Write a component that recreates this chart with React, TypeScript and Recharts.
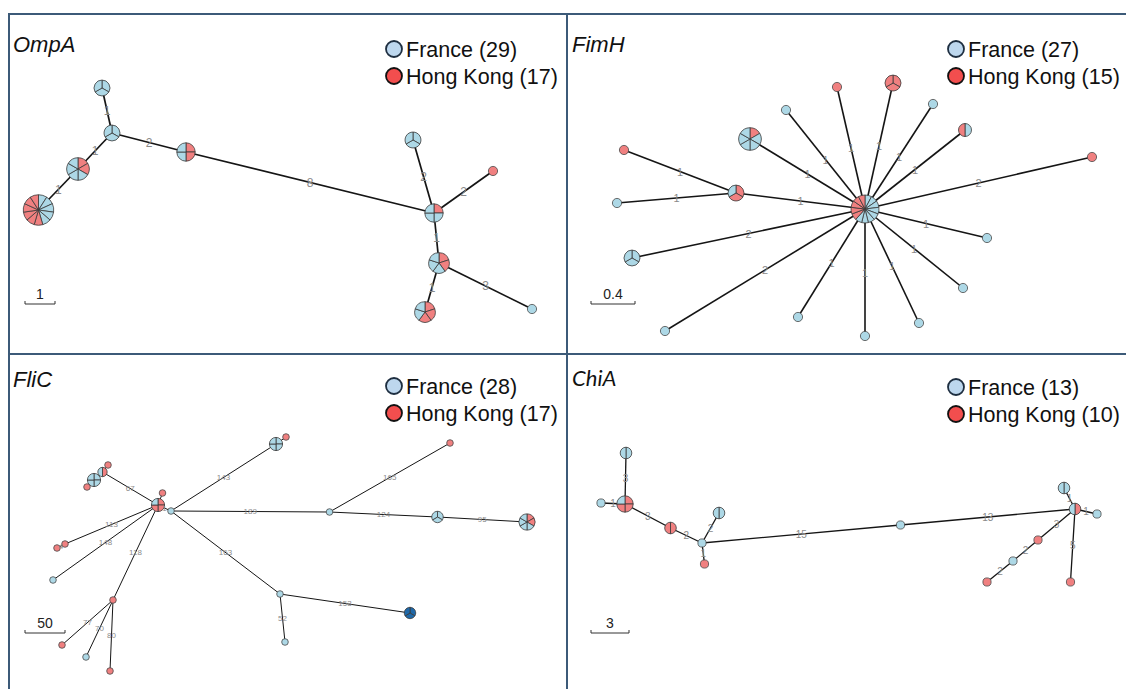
import React from 'react';
import { ScatterChart, Scatter, XAxis, YAxis } from 'recharts';

type Node = { x: number; y: number; fr: number; hk: number; ot?: number; fl?: boolean };
type Edge = [number, number, string];

// OmpA
const ompaNodes: Node[] = [
  { x: 102, y: 88, fr: 3, hk: 0 },
  { x: 112, y: 133, fr: 3, hk: 0 },
  { x: 186, y: 152, fr: 2, hk: 2 },
  { x: 78, y: 169, fr: 4, hk: 2 },
  { x: 38.5, y: 210, fr: 5, hk: 6, fl: true },
  { x: 434, y: 213, fr: 3, hk: 1 },
  { x: 413, y: 140, fr: 3, hk: 0 },
  { x: 493, y: 171, fr: 0, hk: 1 },
  { x: 439, y: 263, fr: 3, hk: 2 },
  { x: 425, y: 312, fr: 2, hk: 3 },
  { x: 532, y: 309, fr: 1, hk: 0 },
];
const ompaEdges: Edge[] = [
  [0, 1, '1'], [1, 3, '1'], [3, 4, '1'], [1, 2, '2'], [2, 5, '8'],
  [5, 6, '2'], [5, 7, '2'], [5, 8, '1'], [8, 9, '1'], [8, 10, '3'],
];

// FimH
const fimhNodes: Node[] = [
  { x: 865, y: 209, fr: 8, hk: 5, fl: true },
  { x: 837, y: 87, fr: 0, hk: 1 },
  { x: 893, y: 83, fr: 0, hk: 3 },
  { x: 933, y: 104, fr: 1, hk: 0 },
  { x: 965, y: 130, fr: 1, hk: 1, fl: true },
  { x: 1092, y: 157, fr: 0, hk: 1 },
  { x: 987, y: 238, fr: 1, hk: 0 },
  { x: 963, y: 288, fr: 1, hk: 0 },
  { x: 919, y: 323, fr: 1, hk: 0 },
  { x: 865, y: 336, fr: 1, hk: 0 },
  { x: 798, y: 317, fr: 1, hk: 0 },
  { x: 665, y: 331, fr: 1, hk: 0 },
  { x: 632, y: 258, fr: 3, hk: 0 },
  { x: 736, y: 193, fr: 1, hk: 2 },
  { x: 617, y: 203, fr: 1, hk: 0 },
  { x: 624, y: 150, fr: 0, hk: 1 },
  { x: 750, y: 139, fr: 5, hk: 1 },
  { x: 786, y: 110, fr: 1, hk: 0 },
];
const fimhEdges: Edge[] = [
  [0, 1, '1'], [0, 2, '1'], [0, 3, '1'], [0, 4, '1'], [0, 5, '2'], [0, 6, '1'],
  [0, 7, '1'], [0, 8, '1'], [0, 9, '1'], [0, 10, '1'], [0, 11, '2'], [0, 12, '2'],
  [0, 13, '1'], [0, 16, '1'], [0, 17, '1'], [13, 14, '1'], [13, 15, '1'],
];

// FliC
const flicNodes: Node[] = [
  { x: 158, y: 505, fr: 1, hk: 3 },
  { x: 171, y: 511, fr: 1, hk: 0 },
  { x: 162.5, y: 493, fr: 0, hk: 1 },
  { x: 102.5, y: 472, fr: 1, hk: 1 },
  { x: 108, y: 465, fr: 0, hk: 1 },
  { x: 94, y: 480, fr: 4, hk: 0 },
  { x: 87, y: 487, fr: 0, hk: 1 },
  { x: 276, y: 444, fr: 4, hk: 0 },
  { x: 286, y: 437, fr: 0, hk: 1 },
  { x: 450, y: 443, fr: 0, hk: 1 },
  { x: 329.5, y: 512, fr: 1, hk: 0 },
  { x: 437.5, y: 517, fr: 3, hk: 0 },
  { x: 527, y: 522, fr: 4, hk: 2 },
  { x: 65, y: 544, fr: 0, hk: 1 },
  { x: 57, y: 548, fr: 0, hk: 1 },
  { x: 53, y: 580, fr: 1, hk: 0 },
  { x: 113, y: 600, fr: 0, hk: 1 },
  { x: 62, y: 645, fr: 0, hk: 1 },
  { x: 86, y: 657, fr: 1, hk: 0 },
  { x: 110, y: 671, fr: 0, hk: 1 },
  { x: 280, y: 594, fr: 1, hk: 0 },
  { x: 285, y: 642, fr: 1, hk: 0 },
  { x: 410, y: 613, fr: 0, hk: 0, ot: 3 },
];
const flicEdges: Edge[] = [
  [0, 2, ''], [0, 3, '67'], [3, 4, ''], [3, 5, ''], [5, 6, ''], [0, 1, '1'],
  [1, 7, '143'], [7, 8, ''], [1, 10, '189'], [10, 9, '165'], [10, 11, '124'],
  [11, 12, '95'], [1, 20, '163'], [20, 22, '153'], [20, 21, '52'], [0, 13, '113'],
  [13, 14, '4'], [0, 15, '148'], [0, 16, '118'], [16, 17, '77'], [16, 18, '70'], [16, 19, '80'],
];

// ChiA
const chiaNodes: Node[] = [
  { x: 626, y: 453, fr: 2, hk: 0 },
  { x: 601, y: 503, fr: 1, hk: 0 },
  { x: 625, y: 504, fr: 1, hk: 3 },
  { x: 670.5, y: 528, fr: 0, hk: 2 },
  { x: 719, y: 513, fr: 2, hk: 0 },
  { x: 702, y: 543, fr: 1, hk: 0 },
  { x: 704.5, y: 564, fr: 0, hk: 1 },
  { x: 900.5, y: 525, fr: 1, hk: 0 },
  { x: 1064, y: 488, fr: 2, hk: 0 },
  { x: 1075, y: 509, fr: 1, hk: 1 },
  { x: 1097, y: 514, fr: 1, hk: 0 },
  { x: 1038, y: 540, fr: 0, hk: 1 },
  { x: 1013, y: 561, fr: 1, hk: 0 },
  { x: 987, y: 582, fr: 0, hk: 1 },
  { x: 1070.5, y: 582, fr: 0, hk: 1 },
];
const chiaEdges: Edge[] = [
  [0, 2, '3'], [1, 2, '1'], [2, 3, '3'], [3, 5, '2'], [5, 4, '2'], [5, 6, '1'],
  [5, 7, '15'], [7, 9, '13'], [9, 8, '1'], [9, 10, '1'], [9, 11, '3'], [11, 12, '2'],
  [12, 13, '2'], [9, 14, '5'],
];

const panelTitles = ['OmpA', 'FimH', 'FliC', 'ChiA'];
const franceCounts = [29, 27, 28, 13];
const hongKongCounts = [17, 15, 17, 10];
const scaleLabels = ['1', '0.4', '50', '3'];

const BLUE = '#add8e6';
const RED = '#f08080';
const DARK = '#1f68a8';

function sector(cx: number, cy: number, r: number, a0: number, a1: number) {
  const x0 = cx + r * Math.cos(a0);
  const y0 = cy + r * Math.sin(a0);
  const x1 = cx + r * Math.cos(a1);
  const y1 = cy + r * Math.sin(a1);
  const large = a1 - a0 > Math.PI ? 1 : 0;
  return `M${cx},${cy} L${x0},${y0} A${r},${r} 0 ${large} 1 ${x1},${y1} Z`;
}

function pieShape(k: number, cap: number) {
  return (props: any) => {
    const { cx, cy, payload } = props;
    const p: Node = payload;
    const reds = Array(p.hk).fill(RED);
    const blues = Array(p.fr).fill(BLUE);
    const darks = Array(p.ot || 0).fill(DARK);
    const cols = p.fl ? [...blues, ...reds, ...darks] : [...reds, ...blues, ...darks];
    const n = cols.length;
    const r = Math.min(k * Math.sqrt(n), cap);
    if (n === 1) {
      return <circle cx={cx} cy={cy} r={r} fill={cols[0]} stroke="#4a4a4a" strokeWidth={0.8} />;
    }
    const step = (Math.PI * 2) / n;
    return (
      <g>
        {cols.map((c, i) => (
          <path key={i} d={sector(cx, cy, r, -Math.PI / 2 + i * step, -Math.PI / 2 + (i + 1) * step)}
            fill={c} stroke="#3a3a3a" strokeWidth={0.8} />
        ))}
      </g>
    );
  };
}

function labelShape(size: number) {
  return (props: any) => (
    <text x={props.cx} y={props.cy} textAnchor="middle" dominantBaseline="central"
      fontSize={size} fill="#8a8a8a" fontFamily="'Liberation Sans', Arial, sans-serif">
      {props.payload.t}
    </text>
  );
}

interface PanelProps {
  box: [number, number, number, number];
  nodes: Node[];
  edges: Edge[];
  k: number;
  cap: number;
  lineW: number;
  labelSize: number;
}

function Panel({ box, nodes, edges, k, cap, lineW, labelSize }: PanelProps) {
  const [x0, y0, w, h] = box;
  const mids = edges
    .filter(e => e[2] !== '')
    .map(([a, b, t]) => ({ x: (nodes[a].x + nodes[b].x) / 2, y: (nodes[a].y + nodes[b].y) / 2, t }));
  return (
    <div style={{ position: 'absolute', left: x0, top: y0 }}>
      <ScatterChart width={w} height={h} margin={{ top: 0, right: 0, bottom: 0, left: 0 }}>
        <XAxis type="number" dataKey="x" domain={[x0, x0 + w]} hide allowDataOverflow />
        <YAxis type="number" dataKey="y" domain={[y0, y0 + h]} reversed hide allowDataOverflow />
        {edges.map(([a, b], i) => (
          <Scatter key={'e' + i} data={[nodes[a], nodes[b]]} line={{ stroke: '#151515', strokeWidth: lineW }}
            shape={() => <g />} isAnimationActive={false} />
        ))}
        <Scatter data={nodes} shape={pieShape(k, cap)} isAnimationActive={false} />
        <Scatter data={mids} shape={labelShape(labelSize)} isAnimationActive={false} />
      </ScatterChart>
    </div>
  );
}

// overlay anchors (page pixels) for each panel: title, legend, scale bar
const overlay = [
  { tx: 13, ty: 52, lx: 394, ly: 49, sx0: 25, sx1: 55, sy: 304, font: "'Liberation Sans', Arial, sans-serif" },
  { tx: 572, ty: 52, lx: 956, ly: 49, sx0: 591, sx1: 635, sy: 304, font: "'Liberation Sans', Arial, sans-serif" },
  { tx: 13, ty: 387, lx: 394, ly: 386, sx0: 25, sx1: 65, sy: 633, font: "'Liberation Sans', Arial, sans-serif" },
  { tx: 572, ty: 386, lx: 956, ly: 387, sx0: 591, sx1: 629, sy: 633, font: "Lato, 'Open Sans', sans-serif" },
];

export default function App() {
  const frame = '#3c5a78';
  return (
    <div style={{ position: 'absolute', left: 0, top: 0, width: 1126, height: 689, background: '#fff', overflow: 'hidden' }}>
      <Panel box={[10, 15, 556, 338]} nodes={ompaNodes} edges={ompaEdges} k={4.6} cap={16} lineW={1.7} labelSize={12} />
      <Panel box={[568, 15, 558, 338]} nodes={fimhNodes} edges={fimhEdges} k={4.6} cap={14} lineW={1.6} labelSize={11} />
      <Panel box={[10, 355, 556, 334]} nodes={flicNodes} edges={flicEdges} k={3.3} cap={9} lineW={1} labelSize={8} />
      <Panel box={[568, 355, 558, 334]} nodes={chiaNodes} edges={chiaEdges} k={4.1} cap={10} lineW={1.3} labelSize={10} />
      <svg width={1126} height={689} style={{ position: 'absolute', left: 0, top: 0, pointerEvents: 'none' }}>
        <line x1={9} y1={14} x2={1126} y2={14} stroke={frame} strokeWidth={2} />
        <line x1={9} y1={13} x2={9} y2={689} stroke={frame} strokeWidth={2} />
        <line x1={567} y1={13} x2={567} y2={689} stroke={frame} strokeWidth={2} />
        <line x1={9} y1={354} x2={1126} y2={354} stroke={frame} strokeWidth={2} />
        {overlay.map((o, i) => (
          <g key={i}>
            <text x={o.tx} y={o.ty} fontSize={22} fontStyle="italic" fontFamily={o.font} fill="#111">
              {panelTitles[i]}
            </text>
            <circle cx={o.lx} cy={o.ly} r={8} fill="#bdd7ee" stroke="#1e2e40" strokeWidth={1.8} />
            <circle cx={o.lx} cy={o.ly + 27} r={8} fill="#f24e4e" stroke="#111" strokeWidth={1.8} />
            <text x={o.lx + 12} y={o.ly + 8} fontSize={21.5} fontFamily="'Liberation Sans', Arial, sans-serif" fill="#111">
              France ({franceCounts[i]})
            </text>
            <text x={o.lx + 12} y={o.ly + 35} fontSize={21.5} fontFamily="'Liberation Sans', Arial, sans-serif" fill="#111">
              Hong Kong ({hongKongCounts[i]})
            </text>
            <text x={(o.sx0 + o.sx1) / 2} y={o.sy - 5} textAnchor="middle" fontSize={14}
              fontFamily="'Liberation Sans', Arial, sans-serif" fill="#222">
              {scaleLabels[i]}
            </text>
            <path d={`M${o.sx0},${o.sy - 3} L${o.sx0},${o.sy} L${o.sx1},${o.sy} L${o.sx1},${o.sy - 3}`}
              fill="none" stroke="#333" strokeWidth={1} />
          </g>
        ))}
      </svg>
    </div>
  );
}
